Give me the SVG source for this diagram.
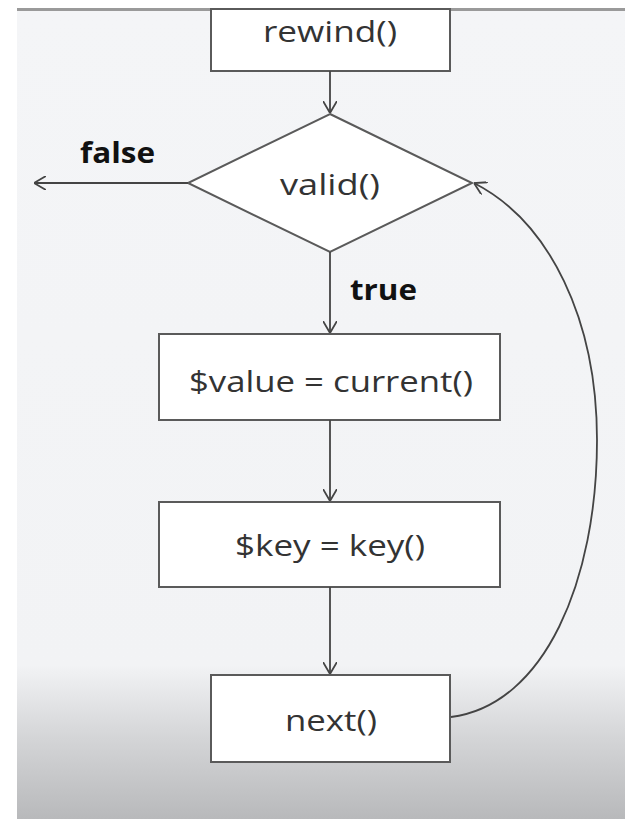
<svg xmlns="http://www.w3.org/2000/svg" width="630" height="819" viewBox="0 0 630 819">
<defs>
<linearGradient id="bg" x1="0" y1="0" x2="0" y2="1">
<stop offset="0" stop-color="#f4f5f7"/>
<stop offset="0.81" stop-color="#f2f3f5"/>
<stop offset="0.9" stop-color="#d4d5d7"/>
<stop offset="1" stop-color="#b8b9bb"/>
</linearGradient>
<marker id="arr" viewBox="0 0 12 14" refX="12" refY="7" markerWidth="12" markerHeight="14" markerUnits="userSpaceOnUse" orient="auto">
<path d="M0,0 L12,7 L0,14" fill="none" stroke="#444" stroke-width="1.8"/>
</marker>
<style>
.box{fill:#ffffff;stroke:#5a5a5a;stroke-width:2}
.lbl{font-family:"Open Sans","Noto Sans",sans-serif;font-size:30px;fill:#333;text-anchor:middle}
.bold{font-family:"Open Sans","Noto Sans",sans-serif;font-size:28px;font-weight:bold;fill:#111}
.edge{fill:none;stroke:#444;stroke-width:1.8;marker-end:url(#arr)}
</style>
</defs>
<rect x="0" y="0" width="630" height="819" fill="#ffffff"/>
<rect x="17" y="9" width="608" height="810" fill="url(#bg)"/>
<rect x="17" y="8" width="608" height="3" fill="#9a9a9a"/>
<g id="n-rewind"><rect class="box" x="211" y="9" width="239" height="62"/><text class="lbl" x="330" y="42" textLength="134" lengthAdjust="spacingAndGlyphs">rewind()</text></g>
<g id="n-valid"><polygon class="box" points="330,114 472,183 330,252 188,183"/><text class="lbl" x="330" y="195" textLength="100" lengthAdjust="spacingAndGlyphs">valid()</text></g>
<g id="n-current"><rect class="box" x="159" y="334" width="341" height="86"/><text class="lbl" x="331" y="392" textLength="284" lengthAdjust="spacingAndGlyphs">$value = current()</text></g>
<g id="n-key"><rect class="box" x="159" y="502" width="341" height="85"/><text class="lbl" x="330" y="556" textLength="190" lengthAdjust="spacingAndGlyphs">$key = key()</text></g>
<g id="n-next"><rect class="box" x="211" y="675" width="239" height="87"/><text class="lbl" x="331" y="731" textLength="92" lengthAdjust="spacingAndGlyphs">next()</text></g>
<g id="labels">
<text class="bold" x="80" y="163" textLength="75" lengthAdjust="spacingAndGlyphs">false</text>
<text class="bold" x="350" y="300" textLength="67" lengthAdjust="spacingAndGlyphs">true</text>
</g>
<g id="connectors">
<path class="edge" d="M330,71 L330,113"/>
<path class="edge" d="M188,183 L34,183"/>
<path class="edge" d="M330,252 L330,333"/>
<path class="edge" d="M330,420 L330,501"/>
<path class="edge" d="M330,587 L330,674"/>
<path class="edge" d="M451,717 C545,705 597,580 597,440 C597,320 550,222 474,183"/>
</g>
</svg>
